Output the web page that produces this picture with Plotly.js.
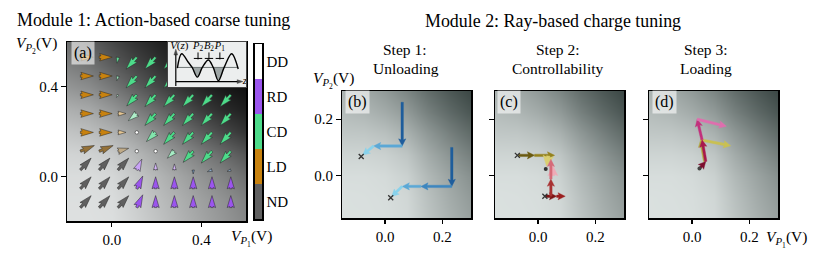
<!DOCTYPE html>
<html><head><meta charset="utf-8">
<script src="https://cdn.plot.ly/plotly-3.0.1.min.js"></script>
<style>html,body{margin:0;padding:0;background:#fff;}</style>
</head><body>
<div id="chart" style="width:830px;height:262px"></div>
<script>
// ================= DATA =================
// Panel (a): background sensor signal (gray level 0..255), grid in V
const bgAx = [-0.2,-0.1,0.0,0.1,0.2,0.3,0.4,0.5,0.6];
const bgAy = [-0.2,-0.1,0.0,0.1,0.2,0.3,0.4,0.5,0.6];
const bgAz = [
 [224,224,222,210,195,180,165,150,135],
 [223,223,220,206,190,175,160,145,128],
 [220,220,215,200,182,165,148,130,110],
 [212,210,202,185,165,145,125,105, 85],
 [196,190,178,160,138,115, 92, 70, 52],
 [175,168,150,128,105, 82, 60, 42, 30],
 [150,140,120, 96, 72, 52, 36, 24, 16],
 [128,115, 92, 70, 50, 33, 20, 12,  8],
 [110, 95, 72, 52, 36, 22, 12,  6,  3]
];
// Panel (a): action field (arrow tails on a 9x9 grid)
const fieldX = [-0.14,-0.056,0.028,0.112,0.196,0.28,0.364,0.448,0.532];
const fieldY = [0.532,0.448,0.364,0.28,0.196,0.112,0.028,-0.056,-0.14];
const arrowClass = [
 ['LD','LD','CD','CD','CD','CD','CD','CD','CD'],
 ['LD','LD','CD','CD','CD','CD','CD','CD','CD'],
 ['LD','LD','CD','CD','CD','CD','CD','CD','CD'],
 ['LD','LD','LD','CD','CD','CD','CD','CD','CD'],
 ['LD','LD','LD','DD','CD','CD','CD','CD','CD'],
 ['LD/ND','LD/ND','LD/ND','DD','DD','CD','CD','CD','CD'],
 ['ND','ND','ND','RD','RD','RD','RD/CD','RD/CD','RD/CD'],
 ['ND','ND','ND','RD','RD','RD','RD','RD','RD'],
 ['ND','ND','ND','RD','RD','RD','RD','RD','RD']
];
const arrowConfidence = [
 [1,1,0.9,1,1,1,1,1,1],
 [1,1,0.55,1,1,1,1,1,1],
 [1,1,0.35,1,1,1,1,1,1],
 [1,1,0.45,0.45,1,1,1,1,1],
 [1,1,0.45,1,0.7,1,1,1,1],
 [1,1,0.6,1,1,0.5,1,1,1],
 [1,1,1,0.55,0.45,0.45,1,0.8,0.8],
 [1,1,1,1,1,1,1,1,1],
 [1,1,1,1,1,1,1,1,1]
];
const arrowMagnitude = [
 [0.81,0.81,0.38,1,1,1,1,1,1],
 [0.81,0.81,0.31,1,1,1,1,1,1],
 [0.81,0.81,0.19,0.94,1,1,1,1,1],
 [0.81,0.81,0.5,0.69,1,1,1,1,1],
 [0.81,0.81,0.5,0,0.81,1,1,1,1],
 [0.94,0.94,0.69,0,0,0.62,0.94,1,1],
 [1,1,1,0.75,0.44,0.38,0.25,0.31,0.25],
 [1,1,1,0.88,0.75,0.75,0.75,0.75,0.75],
 [1,1,1,0.88,0.75,0.75,0.75,0.75,0.75]
];
const arrowAngle = [
 [0,0,260,228,228,228,228,228,228],
 [0,0,255,228,228,228,228,228,228],
 [0,0,240,228,228,228,228,228,228],
 [0,0,0,220,228,228,228,228,228],
 [0,0,0,0,225,228,228,228,228],
 [22,22,15,0,0,225,228,228,228],
 [48,48,48,65,90,90,270,200,200],
 [48,48,48,65,90,90,90,90,90],
 [48,48,48,65,90,90,90,90,90]
];
// Colour bar classes (bottom to top)
const classNames = ['ND','LD','CD','RD','DD'];

// Inset: potential landscape V(z)
const potZ = [0.12,0.175,0.26,0.31,0.376,0.44,0.517,0.58,0.645,0.72,0.816,0.90];
const potV = [0.42,0.74,0.55,0.435,0.22,0.435,0.6,0.435,0.14,0.435,0.74,0.40];
const potRef = 0.435;
const gateNames = ['<i>P</i><sub>2</sub>','<i>B</i><sub>2</sub>','<i>P</i><sub>1</sub>'];
const gateZ = [0.385,0.525,0.665];

// Panels (b)-(d): background (gray level), grid in V
const bgBx = [-0.15,-0.075,0.0,0.075,0.15,0.225,0.3];
const bgBy = [-0.15,-0.075,0.0,0.075,0.15,0.225,0.3];
const bgBz = [
 [222,222,220,214,192,172,155],
 [222,221,219,212,188,166,148],
 [219,219,216,206,180,158,138],
 [210,210,206,194,166,142,120],
 [196,195,188,172,145,120, 98],
 [184,178,166,148,120, 96, 76],
 [174,164,148,126,100, 78, 60]
];
// (b) Unloading trajectories
const unload1X = [0.06,0.06,-0.04,-0.078];
const unload1Y = [0.26,0.105,0.105,0.073];
const unload1Step = [0,2,3];
const unload2X = [0.233,0.233,0.125,0.06,0.023];
const unload2Y = [0.10,-0.038,-0.038,-0.038,-0.074];
const unload2Step = [0,1,2,3];
const unloadEndX = [-0.083,0.02];
const unloadEndY = [0.068,-0.078];
// (c) Controllability trajectories
const ctrlLeftX = [-0.068,-0.012,0.058];
const ctrlLeftY = [0.072,0.072,0.072];
const ctrlYellowX = [0.036,0.03];
const ctrlYellowY = [0.07,0.033];
const ctrlBottomX = [0.027,0.065,0.095];
const ctrlBottomY = [-0.073,-0.073,-0.073];
const ctrlUpX = [0.045,0.045,0.045];
const ctrlUpY = [-0.073,-0.012,0.058];
const ctrlPinkX = [0.052,0.052];
const ctrlPinkY = [0.0,0.035];
const ctrlStartX = [-0.072,0.024];
const ctrlStartY = [0.072,-0.073];
const ctrlDotX = [0.027], ctrlDotY = [0.024];
// (d) Loading trajectories
const loadX = [0.026,0.048,0.035,0.018,0.12];
const loadY = [0.025,0.05,0.127,0.2,0.175];
const loadBranchX = [0.044,0.03,0.135];
const loadBranchY = [0.05,0.127,0.106];
const loadDotX = [0.026], loadDotY = [0.025];

// ================= STYLE / LAYOUT =================
const W = 830, H = 262;
const FONT = 'Liberation Serif, Times New Roman, serif';
const classColor = {ND:[96,96,96], LD:[200,130,15], CD:[77,219,138], RD:[155,85,238], DD:[255,255,255]};
function mixClass(c){ const p=c.split('/'); const a=p.map(k=>classColor[k]); return [0,1,2].map(i=>a.reduce((s,v)=>s+v[i],0)/a.length); }
function rgb(c,conf){ const r=c.map(v=>Math.round(v*conf+255*(1-conf))); return 'rgb('+r.join(',')+')'; }
const dx = px => px / W, dyTop = (t,b) => [1-b/H, 1-t/H];

const A_DOM_X=[67,246], A_DOM_Y=[42,221], A_RANGE=[-0.2,0.6];
const B_RANGE=[-0.15,0.3];
const B_DOM_Y=[91,218];
const B_DOMS_X={'2':[342,471],'3':[495,624],'4':[649,778]};
const INSET_X=[168,246], INSET_Y=[42,87];
const sxA = (A_DOM_X[1]-A_DOM_X[0])/(A_RANGE[1]-A_RANGE[0]);
const syA = (A_DOM_Y[1]-A_DOM_Y[0])/(A_RANGE[1]-A_RANGE[0]);
const syB = (B_DOM_Y[1]-B_DOM_Y[0])/(B_RANGE[1]-B_RANGE[0]);

// quiver-style arrow polygon (tail at x0,y0), lengths in px
function arrowPoly(x0,y0,angDeg,L,w0,sx,sy,hlF,halF,hwF){
  let w=w0, hl=hlF*w, hal=halF*w, hw=hwF*w;
  if(L<hl){const s=L/hl; w*=s; hl*=s; hal*=s; hw*=s;}
  const pts=[[0,-w/2],[L-hal,-w/2],[L-hl,-hw],[L,0],[L-hl,hw],[L-hal,w/2],[0,w/2],[0,-w/2]];
  const a=angDeg*Math.PI/180, c=Math.cos(a), s=Math.sin(a);
  return {x:pts.map(([u,v])=>x0+(u*c-v*s)/sx), y:pts.map(([u,v])=>y0+(u*s+v*c)/sy)};
}

const traces=[];
traces.push({type:'heatmap',x:bgAx,y:bgAy,z:bgAz,zmin:0,zmax:255,zsmooth:'best',showscale:false,
  colorscale:[[0,'rgb(0,0,0)'],[1,'rgb(252,255,255)']],xaxis:'x',yaxis:'y',hoverinfo:'skip'});
const ddX=[],ddY=[];
for(let r=0;r<9;r++)for(let c=0;c<9;c++){
  const cls=arrowClass[r][c];
  if(cls==='DD'){ddX.push(fieldX[c]);ddY.push(fieldY[r]);continue;}
  const L=arrowMagnitude[r][c]*16;
  const p=arrowPoly(fieldX[c],fieldY[r],arrowAngle[r][c],L,2.5,sxA,syA,5,4.5,1.5);
  traces.push({type:'scatter',mode:'lines',x:p.x,y:p.y,fill:'toself',
    fillcolor:rgb(mixClass(cls),arrowConfidence[r][c]),line:{color:'rgba(40,40,40,0.85)',width:0.6},
    xaxis:'x',yaxis:'y',hoverinfo:'skip'});
}
traces.push({type:'scatter',mode:'markers',x:ddX,y:ddY,marker:{symbol:'circle',size:3.5,color:'#fff',line:{color:'#444',width:0.7}},xaxis:'x',yaxis:'y',hoverinfo:'skip'});

// panels b-d backgrounds
['2','3','4'].forEach(k=>traces.push({type:'heatmap',x:bgBx,y:bgBy,z:bgBz,zmin:0,zmax:255,zsmooth:'best',showscale:false,
  colorscale:[[0,'rgb(0,14,11)'],[1,'rgb(250,255,254)']],xaxis:'x'+k,yaxis:'y'+k,hoverinfo:'skip'}));

function seg(xs,ys,colors,ax,width){
  const d=B_DOMS_X[ax], sx=(d[1]-d[0])/(B_RANGE[1]-B_RANGE[0]);
  const w=width||2.4;
  for(let i=0;i<xs.length-1;i++){
    const ux=(xs[i+1]-xs[i])*sx, uy=(ys[i+1]-ys[i])*syB;
    const L=Math.hypot(ux,uy), ang=Math.atan2(uy,ux)*180/Math.PI;
    const p=arrowPoly(xs[i],ys[i],ang,L,w,sx,syB,3,2.6,1.5);
    traces.push({type:'scatter',mode:'lines',x:p.x,y:p.y,fill:'toself',fillcolor:colors[i],
      line:{color:colors[i],width:0.4},xaxis:'x'+ax,yaxis:'y'+ax,hoverinfo:'skip'});
  }
}
const blues=['#1f5d9c','#3d86bf','#5ba8d6','#88d2ec'];
seg(unload1X,unload1Y,unload1Step.map(s=>blues[s]),'2');
seg(unload2X,unload2Y,unload2Step.map(s=>blues[s]),'2');
traces.push({type:'scatter',mode:'markers',x:unloadEndX,y:unloadEndY,marker:{symbol:'x-thin',size:5,color:'#333',line:{color:'#333',width:1.3}},xaxis:'x2',yaxis:'y2',hoverinfo:'skip'});

seg(ctrlLeftX,ctrlLeftY,['#6a5a10','#94821c'],'3');
seg(ctrlYellowX,ctrlYellowY,['#d9cf72'],'3',3.5);
seg(ctrlPinkX,ctrlPinkY,['#efaab6'],'3',3.5);
seg(ctrlBottomX,ctrlBottomY,['#7c1414','#9b1f1f'],'3');
seg(ctrlUpX,ctrlUpY,['#a83232','#d66a78'],'3');
traces.push({type:'scatter',mode:'markers',x:ctrlStartX,y:ctrlStartY,marker:{symbol:'x-thin',size:5,color:'#333',line:{color:'#333',width:1.3}},xaxis:'x3',yaxis:'y3',hoverinfo:'skip'});
traces.push({type:'scatter',mode:'markers',x:ctrlDotX,y:ctrlDotY,marker:{size:4,color:'#333'},xaxis:'x3',yaxis:'y3',hoverinfo:'skip'});

seg(loadBranchX,loadBranchY,['#b0a840','#c9c052'],'4');
seg(loadX,loadY,['#7c0e2e','#a8184c','#c2307c','#df6eae'],'4');
traces.push({type:'scatter',mode:'markers',x:loadDotX,y:loadDotY,marker:{size:4,color:'#444'},xaxis:'x4',yaxis:'y4',hoverinfo:'skip'});

// inset
const under = potZ.map((z,i)=>potV[i]<=potRef+1e-9?i:-1).filter(i=>i>=0);
const groups=[];let cur=[];
under.forEach((i,j)=>{ if(j>0 && i!==under[j-1]+1){groups.push(cur);cur=[];} cur.push(i);});
if(cur.length)groups.push(cur);
groups.filter(g=>g.length>=3).forEach(g=>traces.push({type:'scatter',mode:'lines',x:g.map(i=>potZ[i]),y:g.map(i=>potV[i]),
  fill:'toself',fillcolor:'#9ea6a6',line:{width:0,shape:'spline'},xaxis:'x5',yaxis:'y5',hoverinfo:'skip'}));
traces.push({type:'scatter',mode:'lines',x:[potZ[0],potZ[potZ.length-1]],y:[potRef,potRef],line:{color:'#6f7676',width:1},xaxis:'x5',yaxis:'y5',hoverinfo:'skip'});
traces.push({type:'scatter',mode:'lines',x:potZ,y:potV,line:{color:'#000',width:1.4,shape:'spline'},xaxis:'x5',yaxis:'y5',hoverinfo:'skip'});
traces.push({type:'scatter',mode:'lines+markers',x:[0.1,0.1],y:[0.02,0.84],line:{color:'#000',width:1.2},marker:{symbol:'arrow',size:[0,6],angleref:'previous',color:'#000',line:{color:'#000',width:0.5}},xaxis:'x5',yaxis:'y5',hoverinfo:'skip'});
traces.push({type:'scatter',mode:'lines+markers',x:[0.1,0.96],y:[0.12,0.12],line:{color:'#000',width:1.2},marker:{symbol:'arrow',size:[0,6],angleref:'previous',color:'#000',line:{color:'#000',width:0.5}},xaxis:'x5',yaxis:'y5',hoverinfo:'skip'});
// gate labels and their small "⊥" marks
traces.push({type:'scatter',mode:'text',x:gateZ,y:gateZ.map(()=>0.9),text:gateNames,textfont:{family:FONT,size:10.5,color:'#000'},xaxis:'x5',yaxis:'y5',hoverinfo:'skip'});
traces.push({type:'scatter',mode:'markers',x:gateZ,y:gateZ.map(()=>0.69),marker:{symbol:'line-ns-open',size:5,color:'#000',line:{color:'#000',width:1}},xaxis:'x5',yaxis:'y5',hoverinfo:'skip'});
traces.push({type:'scatter',mode:'markers',x:gateZ,y:gateZ.map(()=>0.635),marker:{symbol:'line-ew-open',size:6,color:'#000',line:{color:'#000',width:1}},xaxis:'x5',yaxis:'y5',hoverinfo:'skip'});
traces.push({type:'scatter',mode:'text',x:[0.145,0.985],y:[0.9,0.12],text:['<i>V</i>(<i>z</i>)','<i>z</i>'],textfont:{family:FONT,size:11,color:'#000'},xaxis:'x5',yaxis:'y5',hoverinfo:'skip'});

// colour bar
const cs=classNames.map(k=>'rgb('+classColor[k].join(',')+')');
const n=classNames.length, discrete=[];
cs.forEach((c,i)=>{discrete.push([i/n,c]);discrete.push([(i+1)/n,c]);});
traces.push({type:'heatmap',x:[0],y:classNames,z:classNames.map((_,i)=>[i+0.5]),zmin:0,zmax:n,colorscale:discrete,showscale:false,xaxis:'x6',yaxis:'y6',hoverinfo:'skip'});

const frame = {showline:true,linecolor:'#000',linewidth:1.5,mirror:true,ticks:'outside',ticklen:4.5,tickwidth:1.2,tickcolor:'#000',
  showgrid:false,zeroline:false,tickfont:{family:FONT,size:15,color:'#000'},tickformat:'.1f'};
const ax=(o)=>Object.assign({},frame,o);
const layout={
  width:W,height:H,margin:{l:0,r:0,t:0,b:0},paper_bgcolor:'#fff',plot_bgcolor:'#eceeee',showlegend:false,
  xaxis: ax({domain:[dx(A_DOM_X[0]),dx(A_DOM_X[1])],range:A_RANGE,tickvals:[0,0.4],anchor:'y'}),
  yaxis: ax({domain:dyTop(A_DOM_Y[0],A_DOM_Y[1]),range:A_RANGE,tickvals:[0,0.4],anchor:'x'}),
  xaxis2: ax({domain:[dx(342),dx(471)],range:B_RANGE,tickvals:[0,0.2],anchor:'y2'}),
  yaxis2: ax({domain:dyTop(B_DOM_Y[0],B_DOM_Y[1]),range:B_RANGE,tickvals:[0,0.2],anchor:'x2'}),
  xaxis3: ax({domain:[dx(495),dx(624)],range:B_RANGE,tickvals:[0,0.2],anchor:'y3'}),
  yaxis3: ax({domain:dyTop(B_DOM_Y[0],B_DOM_Y[1]),range:B_RANGE,tickvals:[0,0.2],anchor:'x3',showticklabels:false}),
  xaxis4: ax({domain:[dx(649),dx(778)],range:B_RANGE,tickvals:[0,0.2],anchor:'y4'}),
  yaxis4: ax({domain:dyTop(B_DOM_Y[0],B_DOM_Y[1]),range:B_RANGE,tickvals:[0,0.2],anchor:'x4',showticklabels:false}),
  xaxis5: {domain:[dx(INSET_X[0]),dx(INSET_X[1])],range:[0,1],anchor:'y5',showline:true,mirror:true,linecolor:'#444',linewidth:1,ticks:'',showticklabels:false,showgrid:false,zeroline:false},
  yaxis5: {domain:dyTop(INSET_Y[0],INSET_Y[1]),range:[0,1],anchor:'x5',showline:true,mirror:true,linecolor:'#444',linewidth:1,ticks:'',showticklabels:false,showgrid:false,zeroline:false},
  xaxis6: {domain:[dx(254.5),dx(262)],anchor:'y6',showline:true,mirror:true,linecolor:'#000',linewidth:1.5,ticks:'',showticklabels:false,showgrid:false,zeroline:false},
  yaxis6: {domain:dyTop(44,219),anchor:'x6',side:'right',type:'category',showline:true,mirror:true,linecolor:'#000',linewidth:1.5,ticks:'',showgrid:false,zeroline:false,tickfont:{family:FONT,size:15,color:'#000'}},
  annotations:[]
};
function ann(text,x,y,size,xanchor,extra){return Object.assign({text,x:x/W,y:1-y/H,xref:'paper',yref:'paper',showarrow:false,xanchor:xanchor||'center',yanchor:'middle',font:{family:FONT,size,color:'#000'}},extra||{});}
const A=layout.annotations;
A.push(ann('Module 1: Action-based coarse tuning',153,20.5,17.9));
A.push(ann('Module 2: Ray-based charge tuning',553,21.5,17.9));
A.push(ann('Step 1:',405,50,15.5)); A.push(ann('Unloading',405.5,68,15.5));
A.push(ann('Step 2:',558,50,15.5)); A.push(ann('Controllability',557.5,68,15.5));
A.push(ann('Step 3:',706,50,15.5)); A.push(ann('Loading',706,68,15.5));
const vp2='<i>V</i><sub><i>P</i><sub>2</sub></sub>(V)', vp1='<i>V</i><sub><i>P</i><sub>1</sub></sub>(V)';
A.push(ann(vp2,14,45,15.5,'left')); A.push(ann(vp2,311,80,15.5,'left'));
A.push(ann(vp1,229,238,15.5,'left')); A.push(ann(vp1,764,239,15.5,'left'));
const lab={bgcolor:'rgba(255,255,255,0.6)',borderpad:2};
A.push(ann('(a)',82.5,53,16,'center',lab));
A.push(ann('(b)',357,102.5,16,'center',lab));
A.push(ann('(c)',509,102.5,16,'center',lab));
A.push(ann('(d)',664,102.5,16,'center',lab));

Plotly.newPlot('chart',traces,layout,{staticPlot:true,displayModeBar:false});
</script>
</body></html>
